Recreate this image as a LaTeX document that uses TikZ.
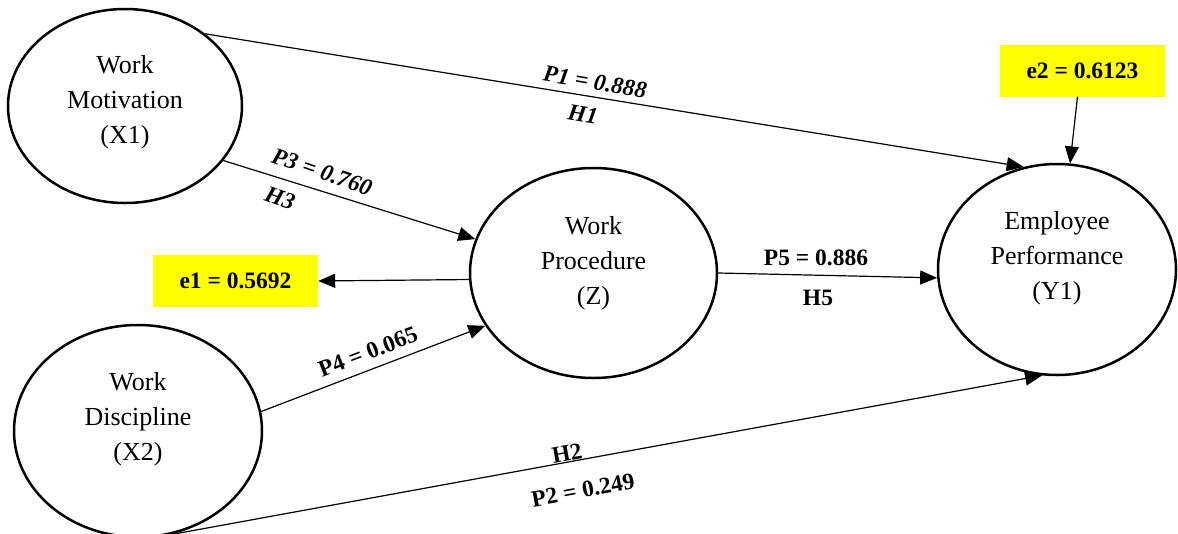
\documentclass[tikz,border=0pt]{standalone}
\usepackage{fontspec}
\setmainfont{Liberation Serif}
\usetikzlibrary{arrows.meta,shapes.geometric}
\definecolor{hiyellow}{HTML}{FFFF00}
\tikzset{
  construct/.style={ellipse,draw,line width=2.5pt,inner sep=0pt},
  nodetext/.style={align=center,font=\fontsize{26}{35}\selectfont},
  errbox/.style={fill=hiyellow,minimum width=165pt,minimum height=52pt,inner sep=0pt,
    font=\fontsize{23.5}{28}\selectfont\bfseries},
  path/.style={line width=1.2pt,-{Triangle[length=17pt,width=14pt]}},
  coef/.style={font=\fontsize{23.5}{28}\selectfont\bfseries,inner sep=0pt},
  coefit/.style={font=\fontsize{23.5}{28}\selectfont\bfseries\itshape,inner sep=0pt}
}
\begin{document}
\begin{tikzpicture}[x=1pt,y=-1pt]
\useasboundingbox (0,0) rectangle (1178,533);

% latent constructs
\node[construct,minimum width=234pt,minimum height=194pt] (X1) at (125,106) {};
\node[construct,minimum width=247pt,minimum height=210pt] (Z)  at (593.5,273) {};
\node[construct,minimum width=238pt,minimum height=211pt] (Y1) at (1057,269.5) {};
\node[construct,minimum width=248pt,minimum height=212pt] (X2) at (138,431) {};

\node[nodetext] (X1t) at (125,102) {Work\\Motivation\\(X1)};
\node[nodetext] (Zt)  at (593.5,263) {Work\\Procedure\\(Z)};
\node[nodetext] (Y1t) at (1057,258) {Employee\\Performance\\(Y1)};
\node[nodetext] (X2t) at (138,419) {Work\\Discipline\\(X2)};

% error terms
\node[errbox] (e1) at (235.5,281) {e1 = 0.5692};
\node[errbox] (e2) at (1082.5,70.5) {e2 = 0.6123};

% structural paths
\draw[path] (X1.42.4) -- (Y1.108.5);
\draw[path] (X1.-29.2) -- (Z.164.1);
\draw[path] (X2.9.8) -- (Z.206);
\draw[path] (Z.0.9) -- (Y1.184.6);
\draw[path] (X2.-78) -- (Y1.262);
\draw[path] (Z.183.2) -- (e1.east);
\draw[path] ([xshift=-5pt]e2.south) -- (Y1.83.4);

% path coefficients and hypotheses
\node[coefit,rotate=-9.5] (p1) at (595,82) {P1 = 0.888};
\node[coefit,rotate=-9.5] (h1) at (583,114) {H1};
\node[coefit,rotate=-19] (p3) at (322,172) {P3 = 0.760};
\node[coefit,rotate=-19] (h3) at (280,198) {H3};
\node[coef,rotate=21] (p4) at (368,352) {P4 = 0.065};
\node[coef] (p5) at (816,258) {P5 = 0.886};
\node[coef] (h5) at (818,298) {H5};
\node[coef,rotate=10.5] (h2) at (567,453) {H2};
\node[coef,rotate=10.5] (p2) at (583,490) {P2 = 0.249};
\end{tikzpicture}
\end{document}
